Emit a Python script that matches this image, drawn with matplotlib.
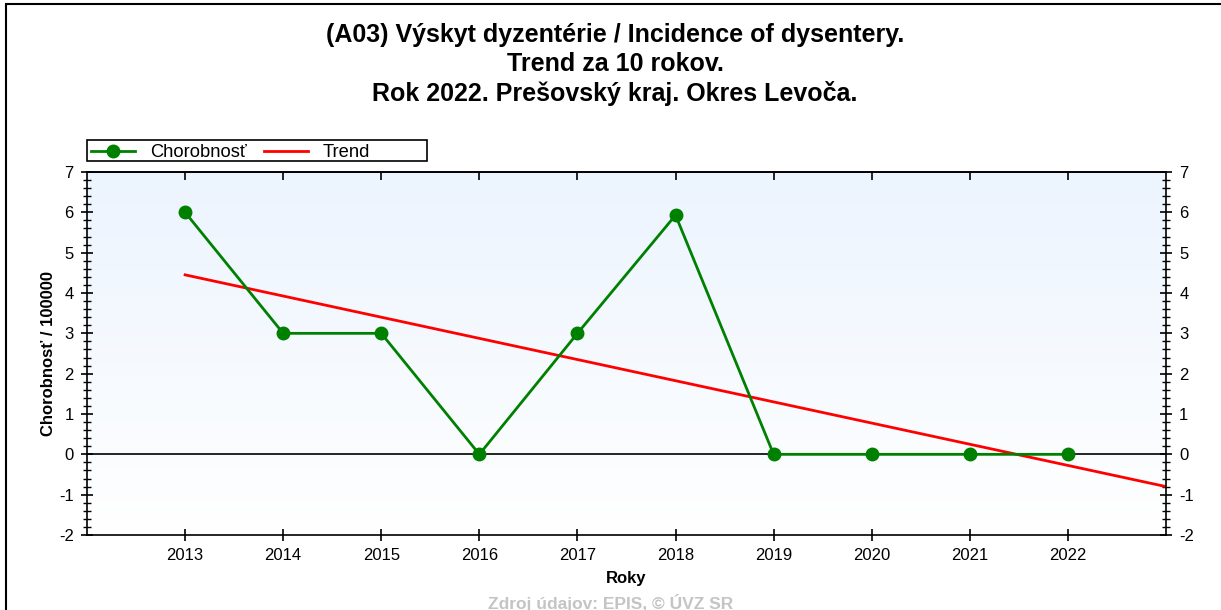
import numpy as np
import matplotlib.pyplot as plt
from matplotlib.patches import Rectangle
from matplotlib.ticker import MultipleLocator

plt.rcParams['font.family'] = ['Liberation Sans', 'DejaVu Sans']
plt.rcParams['axes.unicode_minus'] = False

# data
years = [2013, 2014, 2015, 2016, 2017, 2018, 2019, 2020, 2021, 2022]
rates = [6.0, 3.0, 3.0, 0.0, 3.0, 5.93, 0.0, 0.0, 0.0, 0.0]
trend_years = [2013, 2023]
trend_vals = [4.45, -0.8]

title = ("(A03) Výskyt dyzentérie / Incidence of dysentery.\n"
         "Trend za 10 rokov.\n"
         "Rok 2022. Prešovský kraj. Okres Levoča.")

W, H = 1221, 610
fig = plt.figure(figsize=(W / 100, H / 100), dpi=100)
fig.patch.set_facecolor('white')

# outer frame
fig.patches.append(Rectangle((6 / W, -0.1), 1.2, 1 - 4 / H + 0.1,
                             transform=fig.transFigure, fill=False,
                             edgecolor='black', linewidth=1.5))

ax = fig.add_axes([87 / W, 1 - 535 / H, (1166 - 87) / W, (535 - 172) / H])

# light blue to white gradient background
grad = np.linspace(0, 1, 256).reshape(-1, 1)
top_c = np.array([0.925, 0.957, 0.996])
bot_c = np.array([1.0, 1.0, 1.0])
img = bot_c + (top_c - bot_c) * grad
ax.imshow(img[:, None, :].repeat(2, axis=1), extent=[2012, 2023, -2, 7],
          origin='lower', aspect='auto', zorder=0)

ax.axhline(0, color='black', linewidth=1.2, zorder=1)
ax.plot(years, rates, color='#008000', linewidth=2, marker='o',
        markersize=9, label='Chorobnosť', zorder=3)
ax.plot(trend_years, trend_vals, color='#ff0000', linewidth=2,
        label='Trend', zorder=2)

ax.set_xlim(2012, 2023)
ax.set_ylim(-2, 7)
ax.set_xticks(years)
ax.yaxis.set_major_locator(MultipleLocator(1))
ax.yaxis.set_minor_locator(MultipleLocator(0.2))

ax.tick_params(axis='y', which='major', direction='inout', length=9,
               width=1.2, right=True, labelright=True, labelsize=12, pad=5)
ax.tick_params(axis='y', which='minor', direction='inout', length=6,
               width=1, right=True)
ax.tick_params(axis='x', which='major', direction='inout', length=8,
               width=1.2, labelsize=12, pad=5.5)

top = ax.secondary_xaxis('top')
top.set_xticks(years)
top.tick_params(direction='in', length=6, width=1.2, labeltop=False)
top.spines['top'].set_linewidth(1.2)

for s in ax.spines.values():
    s.set_linewidth(1.2)

ax.set_xlabel('Roky', fontsize=12, fontweight='bold')
ax.xaxis.set_label_coords(0.5, -0.098)
ax.set_ylabel('Chorobnosť / 100000', fontsize=12, fontweight='bold')
ax.yaxis.set_label_coords(-0.029, 0.5)

# legend box
fig.patches.append(Rectangle((87 / W, 1 - 161 / H), 340 / W, 21 / H,
                             transform=fig.transFigure, fill=False,
                             edgecolor='black', linewidth=1.2))
leg = fig.legend(loc='center left', bbox_to_anchor=(91 / W, 1 - 152.5 / H),
                 ncol=2, frameon=False, fontsize=13.2, handlelength=2.4,
                 numpoints=1, borderpad=0, columnspacing=0.95,
                 handletextpad=0.8, borderaxespad=0)

fig.text(615 / W, 1 - 64.5 / H, title, ha='center', va='center',
         fontsize=18, fontweight='bold', linespacing=1.24)

fig.text(611 / W, 1 - 603 / H, 'Zdroj údajov: EPIS, © ÚVZ SR',
         ha='center', va='center', fontsize=12.5, fontweight='bold',
         color='#c4c4c4')

fig.savefig('out.png', dpi=100)
